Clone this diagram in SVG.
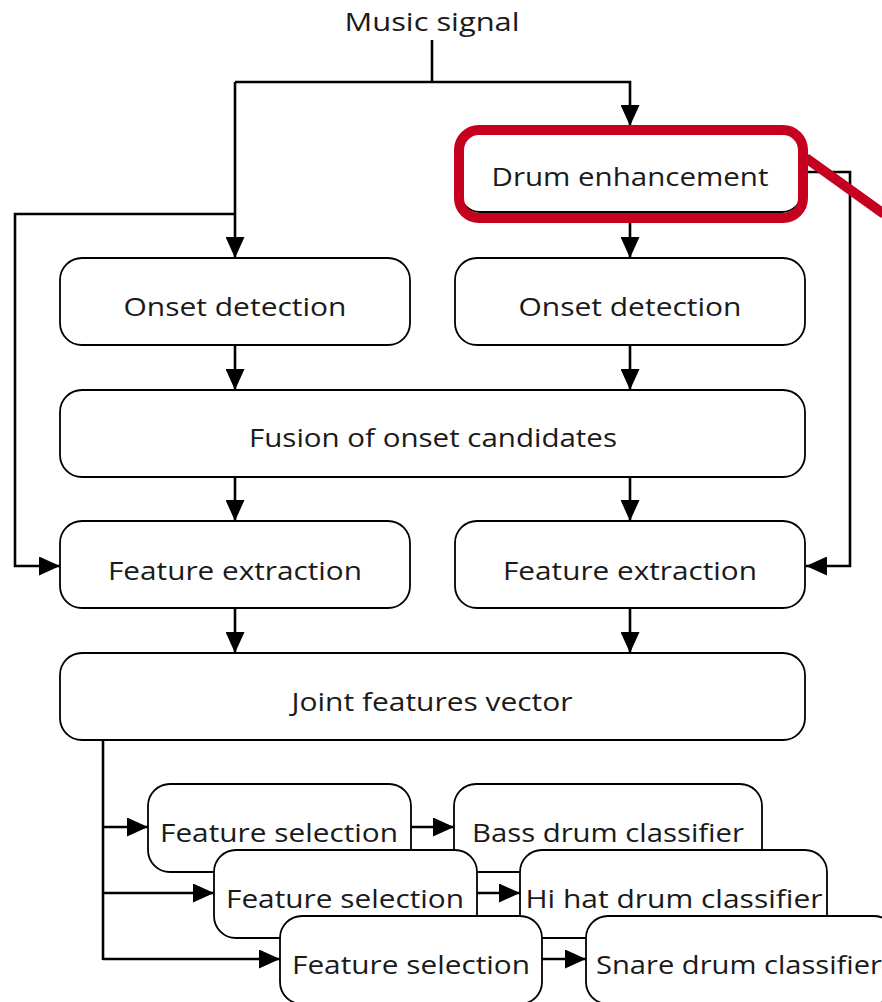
<svg xmlns="http://www.w3.org/2000/svg" width="882" height="1002" viewBox="0 0 882 1002">
  <style>
    .box { fill: #ffffff; stroke: #000000; stroke-width: 1.8; }
    .lbl { font-family: "Open Sans", "Liberation Sans", sans-serif; font-size: 26px; fill: #1a1a1a; text-anchor: middle; }
    .wire { fill: none; stroke: #000000; stroke-width: 2.6; }
    .arr { marker-end: url(#head); }
    .hl { fill: none; stroke: #c6001f; stroke-width: 10; }
  </style>
  <defs>
    <marker id="head" viewBox="0 0 21 19" refX="21" refY="9.5" markerWidth="21" markerHeight="19" markerUnits="userSpaceOnUse" orient="auto">
      <path d="M0 0 L21 9.5 L0 19 Z" fill="#000000"/>
    </marker>
  </defs>
  <rect width="882" height="1002" fill="#ffffff"/>

  <!-- connectors -->
  <g id="connectors">
    <path class="wire" d="M432 40 V82"/>
    <path class="wire arr" d="M235 82 H630 V126"/>
    <path class="wire arr" d="M235 82 V258"/>
    <path class="wire arr" d="M235 214 H15 V566 H60"/>
    <path class="wire arr" d="M630 212 V258"/>
    <path class="wire arr" d="M802 172 H850 V566 H806"/>
    <path class="wire arr" d="M235 345 V390"/>
    <path class="wire arr" d="M630 345 V390"/>
    <path class="wire arr" d="M235 477 V521"/>
    <path class="wire arr" d="M630 477 V521"/>
    <path class="wire arr" d="M235 608 V653"/>
    <path class="wire arr" d="M630 608 V653"/>
    <path class="wire" d="M103 740 V960"/>
    <path class="wire arr" d="M103 827 H148"/>
    <path class="wire arr" d="M103 893 H214"/>
    <path class="wire arr" d="M103 959 H280"/>
    <path class="wire arr" d="M411 827 H454"/>
    <path class="wire arr" d="M477 893 H520"/>
    <path class="wire arr" d="M542 959 H586"/>
  </g>

  <g id="music-signal">
    <text class="lbl" x="432" y="31" textLength="175" lengthAdjust="spacingAndGlyphs">Music signal</text>
  </g>

  <g id="drum-enhancement">
    <rect class="box" x="460" y="130" width="342" height="82" rx="20"/>
    <text class="lbl" x="630" y="186" textLength="277" lengthAdjust="spacingAndGlyphs">Drum enhancement</text>
  </g>

  <g id="onset-left">
    <rect class="box" x="60" y="258" width="350" height="87" rx="22"/>
    <text class="lbl" x="235" y="316" textLength="223" lengthAdjust="spacingAndGlyphs">Onset detection</text>
  </g>
  <g id="onset-right">
    <rect class="box" x="455" y="258" width="350" height="87" rx="22"/>
    <text class="lbl" x="630" y="316" textLength="223" lengthAdjust="spacingAndGlyphs">Onset detection</text>
  </g>

  <g id="fusion">
    <rect class="box" x="60" y="390" width="745" height="87" rx="22"/>
    <text class="lbl" x="433" y="447" textLength="368" lengthAdjust="spacingAndGlyphs">Fusion of onset candidates</text>
  </g>

  <g id="features-left">
    <rect class="box" x="60" y="521" width="350" height="87" rx="22"/>
    <text class="lbl" x="235" y="580" textLength="254" lengthAdjust="spacingAndGlyphs">Feature extraction</text>
  </g>
  <g id="features-right">
    <rect class="box" x="455" y="521" width="350" height="87" rx="22"/>
    <text class="lbl" x="630" y="580" textLength="254" lengthAdjust="spacingAndGlyphs">Feature extraction</text>
  </g>

  <g id="joint-vector">
    <rect class="box" x="60" y="653" width="745" height="87" rx="22"/>
    <text class="lbl" x="432" y="711" textLength="281" lengthAdjust="spacingAndGlyphs">Joint features vector</text>
  </g>

  <!-- stacked selection / classifier pairs, drawn back to front -->
  <g id="selection-bass">
    <rect class="box" x="148" y="784" width="263" height="88" rx="22"/>
    <text class="lbl" x="279" y="842" textLength="238" lengthAdjust="spacingAndGlyphs">Feature selection</text>
  </g>
  <g id="classifier-bass">
    <rect class="box" x="454" y="784" width="308" height="88" rx="22"/>
    <text class="lbl" x="608" y="842" textLength="272" lengthAdjust="spacingAndGlyphs">Bass drum classifier</text>
  </g>
  <g id="selection-hihat">
    <rect class="box" x="214" y="850" width="263" height="88" rx="22"/>
    <text class="lbl" x="345" y="908" textLength="238" lengthAdjust="spacingAndGlyphs">Feature selection</text>
  </g>
  <g id="classifier-hihat">
    <rect class="box" x="520" y="850" width="307" height="88" rx="22"/>
    <text class="lbl" x="674" y="908" textLength="297" lengthAdjust="spacingAndGlyphs">Hi hat drum classifier</text>
  </g>
  <g id="selection-snare">
    <rect class="box" x="280" y="916" width="262" height="88" rx="22"/>
    <text class="lbl" x="411" y="974" textLength="238" lengthAdjust="spacingAndGlyphs">Feature selection</text>
  </g>
  <g id="classifier-snare">
    <rect class="box" x="586" y="916" width="310" height="88" rx="22"/>
    <text class="lbl" x="739" y="974" textLength="286" lengthAdjust="spacingAndGlyphs">Snare drum classifier</text>
  </g>

  <!-- red emphasis frame and pointer -->
  <g id="highlight">
    <rect class="hl" x="459" y="130" width="344" height="88" rx="20"/>
    <path class="hl" d="M806 158 L884 214"/>
  </g>
</svg>
